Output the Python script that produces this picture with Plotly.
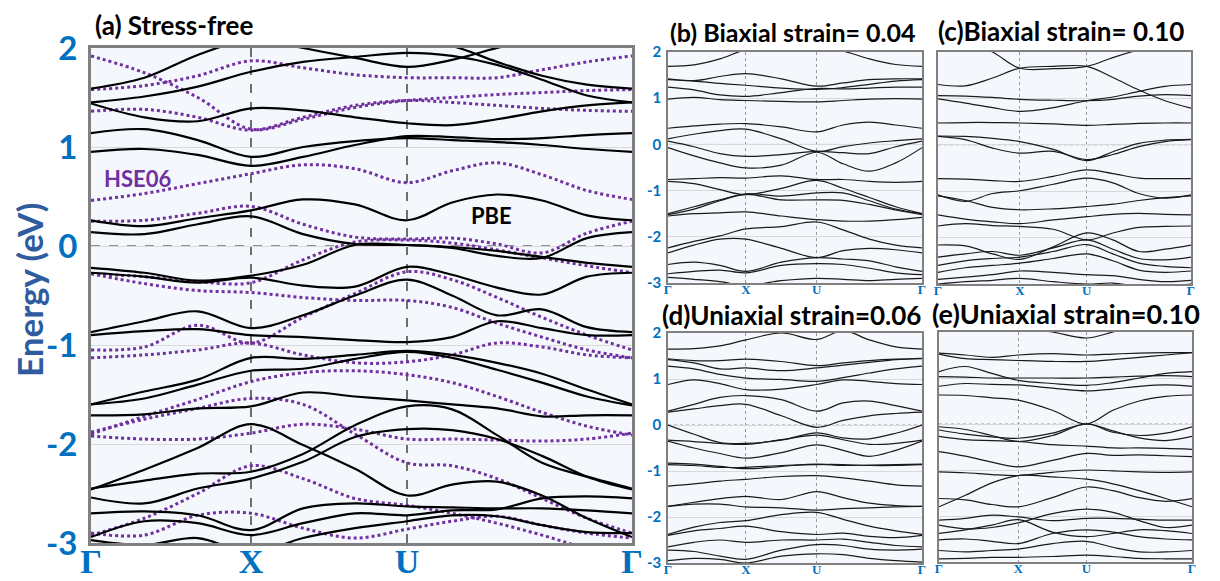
import plotly.graph_objects as go

W, H = 1220, 581

# ---------------- k-path (Γ, X, U, Γ) positions per panel ----------------
PATH_A = [0.0, 1.0, 1.975, 3.381]
PATH_B = [0.0, 1.037, 1.98, 3.381]
PATH_C = [0.0, 1.094, 1.988, 3.381]
PATH_D = [0.0, 1.037, 1.98, 3.381]
PATH_E = [0.0, 1.059, 1.971, 3.381]
K_LABELS = ["Γ", "X", "U", "Γ"]

# ---------------- (a) stress-free, PBE bands (12 k samples) ----------------
PBE = [
    [2.20, 2.20, 2.15, 2.10, 2.00, 1.90, 1.81, 1.88, 2.00, 2.10, 2.15, 2.20],
    [1.59, 1.70, 1.93, 2.10, 2.15, 2.12, 2.08, 2.02, 1.86, 1.72, 1.63, 1.59],
    [1.45, 1.51, 1.61, 1.76, 1.86, 1.91, 1.95, 1.92, 1.83, 1.68, 1.52, 1.45],
    [1.44, 1.30, 1.26, 1.39, 1.37, 1.30, 1.24, 1.22, 1.28, 1.36, 1.42, 1.45],
    [1.14, 1.18, 1.07, 0.90, 1.00, 1.06, 1.09, 1.07, 1.05, 1.02, 0.98, 0.95],
    [0.95, 0.98, 0.92, 0.81, 0.90, 1.02, 1.11, 1.10, 1.08, 1.09, 1.12, 1.14],
    [0.26, 0.20, 0.28, 0.36, 0.47, 0.42, 0.26, 0.44, 0.52, 0.46, 0.31, 0.26],
    [0.14, 0.12, 0.22, 0.30, 0.12, 0.02, 0.01, -0.02, -0.10, -0.12, 0.08, 0.14],
    [-0.22, -0.27, -0.35, -0.30, -0.19, 0.01, 0.01, -0.01, -0.05, -0.11, -0.17, -0.21],
    [-0.27, -0.31, -0.37, -0.32, -0.40, -0.41, -0.21, -0.29, -0.42, -0.49, -0.31, -0.27],
    [-0.87, -0.76, -0.66, -0.83, -0.70, -0.50, -0.34, -0.50, -0.70, -0.64, -0.82, -0.87],
    [-0.90, -0.86, -0.84, -0.90, -0.92, -0.95, -0.97, -0.92, -0.76, -0.83, -0.90, -0.90],
    [-1.60, -1.47, -1.35, -1.13, -1.14, -1.10, -1.06, -1.10, -1.18, -1.29, -1.45, -1.60],
    [-1.60, -1.54, -1.40, -1.26, -1.24, -1.14, -1.07, -1.13, -1.25, -1.38, -1.52, -1.61],
    [-1.71, -1.70, -1.64, -1.62, -1.48, -1.52, -1.56, -1.60, -1.64, -1.72, -1.71, -1.71],
    [-2.46, -2.26, -2.04, -1.80, -2.01, -2.25, -2.52, -2.41, -2.38, -2.52, -2.75, -2.94],
    [-2.45, -2.37, -2.30, -2.28, -2.10, -1.81, -1.62, -1.65, -1.91, -2.19, -2.33, -2.45],
    [-2.54, -2.60, -2.45, -2.35, -2.18, -1.93, -1.85, -1.86, -1.95, -2.12, -2.33, -2.46],
    [-2.70, -2.68, -2.72, -2.87, -2.65, -2.60, -2.63, -2.64, -2.65, -2.65, -2.67, -2.70],
    [-2.94, -2.78, -2.80, -2.92, -2.80, -2.70, -2.72, -2.67, -2.66, -2.55, -2.53, -2.55],
    [-2.97, -3.02, -2.95, -3.10, -2.95, -2.85, -2.78, -2.72, -2.73, -2.82, -2.89, -2.90],
]

# ---------------- (a) stress-free, HSE06 bands ----------------
HSE = [
    [1.92, 1.75, 1.50, 1.18, 1.28, 1.40, 1.47, 1.50, 1.53, 1.55, 1.57, 1.58],
    [1.58, 1.62, 1.72, 1.87, 1.80, 1.73, 1.70, 1.70, 1.70, 1.78, 1.86, 1.92],
    [1.36, 1.38, 1.30, 1.17, 1.30, 1.42, 1.47, 1.45, 1.42, 1.39, 1.37, 1.36],
    [0.46, 0.53, 0.63, 0.73, 0.82, 0.78, 0.64, 0.76, 0.84, 0.72, 0.56, 0.47],
    [0.25, 0.26, 0.33, 0.40, 0.22, 0.09, 0.07, 0.08, 0.02, -0.07, 0.13, 0.25],
    [-0.28, -0.31, -0.36, -0.37, -0.14, 0.04, 0.06, 0.03, -0.04, -0.12, -0.20, -0.27],
    [-0.28, -0.38, -0.45, -0.47, -0.52, -0.55, -0.55, -0.62, -0.78, -0.92, -1.05, -1.13],
    [-1.05, -1.02, -0.80, -0.98, -0.72, -0.48, -0.26, -0.34, -0.52, -0.72, -0.90, -1.05],
    [-1.13, -1.10, -1.05, -0.98, -1.10, -1.18, -1.17, -1.10, -0.98, -1.02, -1.10, -1.13],
    [-1.90, -1.72, -1.55, -1.37, -1.28, -1.26, -1.30, -1.38, -1.52, -1.68, -1.82, -1.91],
    [-1.92, -1.95, -1.95, -1.89, -1.80, -1.85, -1.95, -1.95, -1.96, -1.97, -1.95, -1.89],
    [-1.88, -1.75, -1.64, -1.54, -1.60, -1.90, -2.19, -2.22, -2.35, -2.55, -2.75, -2.90],
    [-2.90, -2.92, -2.72, -2.70, -2.85, -2.95, -2.86, -2.78, -2.73, -2.82, -2.90, -2.95],
    [-2.92, -2.75, -2.50, -2.22, -2.35, -2.55, -2.62, -2.70, -2.80, -2.92, -3.05, -3.10],
]

# ---------------- (b) biaxial 0.04 (10 k samples) ----------------
BANDS_B = [
    [1.69, 1.72, 1.85, 2.05, 2.15, 2.10, 2.02, 1.85, 1.73, 1.69],
    [1.42, 1.38, 1.47, 1.53, 1.42, 1.26, 1.33, 1.40, 1.42, 1.42],
    [1.40, 1.37, 1.32, 1.28, 1.22, 1.19, 1.23, 1.30, 1.37, 1.40],
    [1.24, 1.18, 1.07, 1.04, 1.12, 1.21, 1.20, 1.22, 1.24, 1.24],
    [0.98, 1.02, 0.97, 0.95, 0.93, 0.92, 0.95, 0.98, 0.99, 0.98],
    [0.35, 0.40, 0.44, 0.45, 0.38, 0.27, 0.42, 0.48, 0.42, 0.35],
    [0.12, 0.22, 0.30, 0.33, 0.12, -0.15, -0.05, 0.03, 0.08, 0.12],
    [0.07, -0.05, -0.20, -0.26, -0.22, -0.15, -0.18, -0.20, -0.05, 0.07],
    [-0.07, -0.25, -0.40, -0.51, -0.45, -0.17, -0.42, -0.58, -0.40, -0.07],
    [-0.76, -0.74, -0.72, -0.73, -0.68, -0.76, -0.76, -0.80, -0.82, -0.80],
    [-0.80, -0.85, -0.98, -1.09, -0.95, -0.78, -0.95, -1.15, -1.35, -1.50],
    [-1.50, -1.35, -1.20, -1.07, -1.12, -1.05, -1.05, -1.22, -1.40, -1.50],
    [-1.52, -1.40, -1.22, -1.08, -1.20, -1.20, -1.21, -1.30, -1.42, -1.52],
    [-1.55, -1.50, -1.48, -1.46, -1.55, -1.63, -1.66, -1.66, -1.63, -1.58],
    [-2.24, -2.10, -1.98, -1.83, -1.78, -1.68, -1.85, -2.05, -2.18, -2.24],
    [-2.35, -2.18, -2.05, -2.05, -2.25, -2.45, -2.30, -2.25, -2.28, -2.35],
    [-2.60, -2.55, -2.62, -2.75, -2.55, -2.45, -2.48, -2.52, -2.65, -2.75],
    [-2.80, -2.75, -2.72, -2.78, -2.62, -2.58, -2.60, -2.68, -2.78, -2.82],
    [-2.88, -2.92, -2.97, -3.05, -2.95, -2.90, -2.92, -2.95, -2.92, -2.90],
]

# ---------------- (c) biaxial 0.10 ----------------
BANDS_C = [
    [2.40, 2.25, 2.00, 1.65, 1.64, 1.69, 1.88, 2.05, 2.20, 2.30],
    [1.30, 1.27, 1.44, 1.65, 1.69, 1.69, 1.45, 1.18, 0.95, 0.79],
    [1.06, 1.05, 1.02, 0.98, 0.96, 0.95, 0.98, 1.05, 1.08, 1.06],
    [0.99, 0.90, 0.80, 0.72, 0.80, 0.95, 1.03, 1.15, 1.26, 1.30],
    [0.47, 0.48, 0.48, 0.47, 0.45, 0.42, 0.44, 0.46, 0.47, 0.47],
    [0.18, 0.11, -0.07, -0.18, -0.14, -0.32, -0.21, -0.04, 0.07, 0.11],
    [0.19, 0.18, 0.14, 0.07, -0.10, -0.34, -0.15, 0.03, 0.10, 0.12],
    [-0.73, -0.74, -0.77, -0.79, -0.68, -0.54, -0.62, -0.72, -0.73, -0.73],
    [-1.08, -1.22, -1.05, -0.99, -0.85, -0.72, -0.82, -1.05, -1.15, -1.08],
    [-1.10, -1.20, -1.35, -1.40, -1.38, -1.33, -1.28, -1.20, -1.14, -1.10],
    [-1.51, -1.60, -1.66, -1.70, -1.62, -1.55, -1.50, -1.48, -1.50, -1.51],
    [-1.75, -1.70, -1.74, -1.76, -1.82, -2.05, -1.90, -1.78, -1.76, -1.75],
    [-2.16, -2.18, -2.35, -2.47, -2.20, -1.90, -2.05, -2.30, -2.25, -2.16],
    [-2.42, -2.35, -2.30, -2.38, -2.22, -2.05, -2.25, -2.45, -2.48, -2.42],
    [-2.60, -2.50, -2.45, -2.42, -2.30, -2.15, -2.35, -2.55, -2.62, -2.65],
    [-2.75, -2.65, -2.60, -2.55, -2.45, -2.35, -2.50, -2.70, -2.75, -2.72],
    [-2.90, -2.85, -2.80, -2.72, -2.75, -2.80, -2.82, -2.90, -2.95, -2.92],
    [-3.00, -2.95, -2.92, -2.88, -2.95, -3.00, -2.98, -3.05, -3.05, -3.00],
]

# ---------------- (d) uniaxial 0.06 ----------------
BANDS_D = [
    [1.65, 1.66, 1.72, 1.85, 2.00, 1.86, 2.05, 1.85, 1.70, 1.65],
    [1.44, 1.40, 1.40, 1.43, 1.38, 1.29, 1.35, 1.40, 1.43, 1.44],
    [1.42, 1.35, 1.22, 1.24, 1.18, 1.24, 1.30, 1.36, 1.42, 1.45],
    [1.28, 1.22, 1.10, 1.02, 0.99, 0.95, 1.03, 1.13, 1.22, 1.28],
    [0.88, 0.98, 0.90, 0.77, 0.78, 0.88, 0.98, 0.95, 0.90, 0.88],
    [0.30, 0.45, 0.60, 0.64, 0.55, 0.30, 0.48, 0.52, 0.42, 0.30],
    [0.28, 0.35, 0.42, 0.45, 0.20, -0.05, 0.10, 0.20, 0.25, 0.28],
    [0.00, -0.20, -0.38, -0.40, -0.33, -0.17, -0.28, -0.30, -0.18, 0.00],
    [-0.33, -0.36, -0.40, -0.42, -0.32, -0.22, -0.32, -0.42, -0.40, -0.33],
    [-0.35, -0.50, -0.62, -0.72, -0.60, -0.43, -0.55, -0.68, -0.55, -0.35],
    [-0.83, -0.85, -0.90, -0.95, -0.90, -0.85, -0.88, -0.87, -0.86, -0.85],
    [-0.86, -0.88, -0.92, -0.92, -0.88, -0.86, -0.86, -0.88, -0.88, -0.86],
    [-1.33, -1.28, -1.22, -1.18, -1.12, -1.10, -1.15, -1.22, -1.30, -1.33],
    [-1.77, -1.68, -1.60, -1.55, -1.62, -1.45, -1.58, -1.70, -1.75, -1.77],
    [-1.77, -1.72, -1.72, -1.78, -1.80, -1.85, -1.82, -1.80, -1.78, -1.77],
    [-2.38, -2.22, -2.12, -2.08, -1.95, -1.90, -2.05, -2.20, -2.30, -2.38],
    [-2.40, -2.30, -2.25, -2.20, -2.32, -2.38, -2.35, -2.42, -2.45, -2.40],
    [-2.65, -2.55, -2.50, -2.55, -2.50, -2.50, -2.48, -2.55, -2.62, -2.65],
    [-2.72, -2.75, -2.85, -2.92, -2.72, -2.60, -2.62, -2.70, -2.72, -2.70],
    [-2.95, -2.90, -2.92, -3.00, -2.85, -2.80, -2.82, -2.90, -2.95, -2.98],
]

# ---------------- (e) uniaxial 0.10 ----------------
BANDS_E = [
    [2.30, 2.25, 2.20, 2.10, 2.00, 1.87, 2.00, 2.15, 2.25, 2.30],
    [1.54, 1.50, 1.45, 1.50, 1.53, 1.50, 1.52, 1.54, 1.55, 1.55],
    [1.52, 1.42, 1.40, 1.38, 1.36, 1.36, 1.40, 1.45, 1.50, 1.55],
    [1.14, 1.25, 1.10, 0.95, 0.88, 0.84, 0.90, 1.00, 1.10, 1.14],
    [1.03, 1.02, 1.00, 1.00, 1.00, 1.00, 1.02, 1.04, 1.05, 1.03],
    [0.82, 0.88, 0.86, 0.85, 0.78, 0.72, 0.76, 0.82, 0.85, 0.82],
    [0.63, 0.62, 0.57, 0.52, 0.30, 0.00, 0.30, 0.50, 0.60, 0.63],
    [-0.06, -0.12, -0.25, -0.38, -0.25, 0.00, -0.18, -0.25, -0.20, -0.06],
    [-0.13, -0.22, -0.28, -0.31, -0.20, 0.00, -0.15, -0.30, -0.36, -0.27],
    [-0.27, -0.34, -0.36, -0.38, -0.45, -0.48, -0.52, -0.52, -0.53, -0.55],
    [-0.60, -0.70, -0.83, -0.93, -0.79, -0.64, -0.68, -0.67, -0.69, -0.71],
    [-1.04, -1.06, -1.10, -1.12, -1.05, -1.00, -1.02, -1.04, -1.05, -1.04],
    [-1.80, -1.55, -1.28, -1.12, -1.15, -1.20, -1.30, -1.45, -1.62, -1.80],
    [-1.62, -1.65, -1.75, -1.80, -1.60, -1.37, -1.45, -1.60, -1.68, -1.62],
    [-2.09, -2.05, -1.98, -2.02, -2.10, -2.05, -2.05, -2.07, -2.09, -2.09],
    [-2.20, -2.28, -2.25, -2.15, -1.95, -1.85, -1.92, -2.10, -2.25, -2.20],
    [-2.38, -2.30, -2.20, -2.08, -2.35, -2.45, -2.38, -2.30, -2.32, -2.38],
    [-2.52, -2.50, -2.55, -2.60, -2.38, -2.30, -2.35, -2.45, -2.50, -2.52],
    [-2.75, -2.78, -2.75, -2.72, -2.60, -2.55, -2.68, -2.78, -2.78, -2.75],
    [-2.93, -2.92, -2.90, -2.90, -2.88, -2.85, -2.88, -2.92, -2.93, -2.93],
]

Y_TICKS = [2, 1, 0, -1, -2, -3]
TITLES = ["(a) Stress-free", "(b) Biaxial strain= 0.04", "(c)Biaxial strain= 0.10",
          "(d)Uniaxial strain=0.06", "(e)Uniaxial strain=0.10"]


def kgrid(path, ns):
    ks = [path[0]]
    for i, n in enumerate(ns):
        a, b = path[i], path[i + 1]
        for j in range(1, n + 1):
            ks.append(a + (b - a) * j / n)
    return ks


def pxx(x):
    return x / W


def pyy(y):
    return 1 - y / H


BLUE = "#0070C0"
PURPLE = "#7030A0"
FONT = "Lato"
SERIF = "Liberation Serif"

fig = go.Figure()

# (suffix, path, k grid, bands, pixel box, main panel?, show y labels?)
panels = [
    ("", PATH_A, kgrid(PATH_A, (3, 3, 5)), PBE, (91, 632, 48, 543), True, True),
    ("2", PATH_B, kgrid(PATH_B, (3, 2, 4)), BANDS_B, (668, 922, 52, 283), False, True),
    ("3", PATH_C, kgrid(PATH_C, (3, 2, 4)), BANDS_C, (938, 1191, 52, 284), False, False),
    ("4", PATH_D, kgrid(PATH_D, (3, 2, 4)), BANDS_D, (668, 922, 333, 563), False, True),
    ("5", PATH_E, kgrid(PATH_E, (3, 2, 4)), BANDS_E, (939, 1192, 332, 562), False, False),
]

layout = dict(
    width=W, height=H, margin=dict(l=0, r=0, t=0, b=0, autoexpand=False),
    paper_bgcolor="white", plot_bgcolor="rgba(0,0,0,0)", showlegend=False,
    font=dict(family=FONT),
)
shapes = []

for suf, path, ks, bands, (x0, x1, y0, y1), big, ylab in panels:
    xa = "x" + suf
    ya = "y" + suf
    if big:
        for band in HSE:
            fig.add_trace(go.Scatter(
                x=ks, y=band, xaxis=xa, yaxis=ya, mode="lines",
                line=dict(color=PURPLE, width=3, dash="dot", shape="spline", smoothing=1.0),
                hoverinfo="skip"))
    for band in bands:
        fig.add_trace(go.Scatter(
            x=ks, y=band, xaxis=xa, yaxis=ya, mode="lines",
            line=dict(color="black" if big else "#1a1a1a", width=2.2 if big else 1.2,
                      shape="spline", smoothing=1.0),
            hoverinfo="skip"))

    layout["xaxis" + suf] = dict(
        domain=[pxx(x0), pxx(x1)], range=[path[0], path[-1]], anchor=ya,
        tickvals=path, ticktext=K_LABELS, ticks="", automargin=False,
        tickfont=dict(family=SERIF, size=34 if big else 13, color=BLUE, weight="bold"),
        ticklabelstandoff=-14 if big else -6,
        showgrid=True, gridcolor="#6e6e6e" if big else "#9a9a9a",
        griddash="dash" if big else "dot", gridwidth=1.5 if big else 1,
        showline=True, mirror=True, linecolor="#808080", linewidth=3 if big else 1.5,
        zeroline=False, fixedrange=True,
    )
    layout["yaxis" + suf] = dict(
        domain=[pyy(y1), pyy(y0)], range=[-3, 2], anchor=xa,
        tickvals=Y_TICKS, ticktext=[str(v) for v in Y_TICKS], ticks="", automargin=False,
        showticklabels=ylab,
        tickfont=dict(family=FONT, size=33 if big else 15, color=BLUE, weight="bold"),
        showgrid=True, gridcolor="#d9d9d9", gridwidth=1,
        showline=True, mirror=True, linecolor="#808080", linewidth=3 if big else 1.5,
        zeroline=False, fixedrange=True, ticklabelstandoff=4 if big else 2,
    )
    shapes.append(dict(type="rect", xref="paper", yref="paper", x0=pxx(x0), x1=pxx(x1),
                       y0=pyy(y1), y1=pyy(y0), fillcolor="#F4F8FD", line=dict(width=0),
                       layer="below"))
    shapes.append(dict(type="line", xref=xa, yref=ya,
                       x0=path[0], x1=path[-1], y0=0, y1=0,
                       line=dict(color="#6e6e6e" if big else "#9a9a9a",
                                 width=1.5 if big else 1, dash="dash" if big else "dot"),
                       layer="below"))

layout["shapes"] = shapes

annotations = [
    dict(text="Energy (eV)", x=pxx(29), y=pyy(290), xref="paper", yref="paper",
         xanchor="center", yanchor="middle", textangle=-90, showarrow=False,
         font=dict(family=FONT, size=35, color="#2E5C9E", weight="bold")),
    dict(text="HSE06", x=pxx(137), y=pyy(178), xref="paper", yref="paper",
         xanchor="center", yanchor="middle", showarrow=False,
         font=dict(family=FONT, size=22, color=PURPLE, weight="bold")),
    dict(text="PBE", x=pxx(491), y=pyy(215), xref="paper", yref="paper",
         xanchor="center", yanchor="middle", showarrow=False,
         font=dict(family=FONT, size=22, color="black", weight="bold")),
]
title_pos = [(93, 25), (668, 32), (936, 31), (660, 315), (930, 313)]
title_size = [26, 25, 26, 26, 27]
for t, (tx, ty), ts in zip(TITLES, title_pos, title_size):
    annotations.append(dict(text=t, x=pxx(tx), y=pyy(ty), xref="paper", yref="paper",
                            xanchor="left", yanchor="middle", showarrow=False,
                            font=dict(family=FONT, size=ts, color="black", weight="bold")))
layout["annotations"] = annotations

fig.update_layout(**layout)
fig.write_html("out.html", config={"displayModeBar": False},
               post_script="document.body.style.margin='0';document.body.style.padding='0';"
                           "document.body.style.overflow='hidden';")
